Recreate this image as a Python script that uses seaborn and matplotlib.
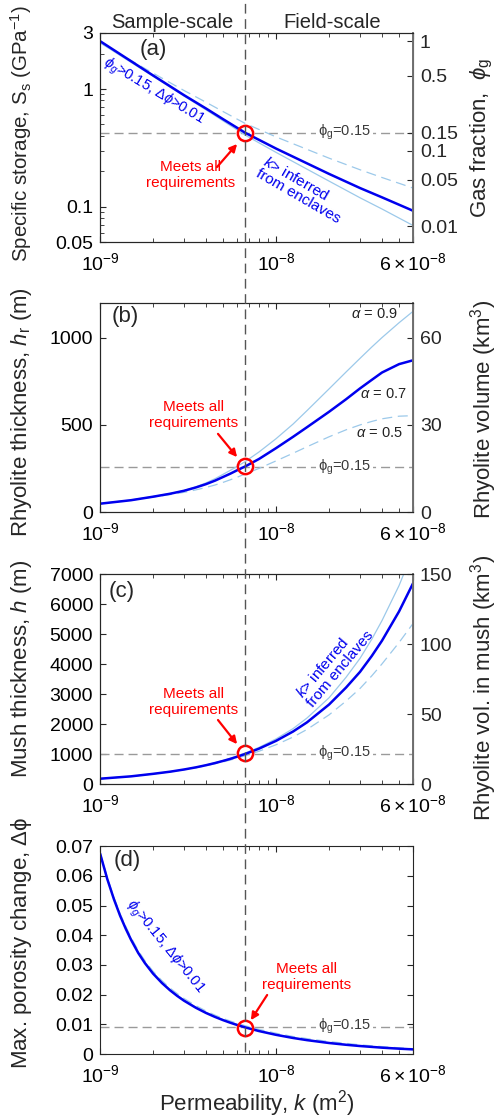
import matplotlib
matplotlib.use("Agg")
import matplotlib.pyplot as plt
import matplotlib.transforms as mtransforms
from matplotlib.lines import Line2D
from matplotlib.ticker import FixedLocator, LogLocator, NullFormatter, NullLocator
import seaborn as sns

# permeability sample points (m^2)
k_pts_a = [1e-9, 2e-9, 3e-9, 4e-9, 5e-9, 6.7e-9, 1e-8, 2e-8, 3e-8, 4e-8, 6e-8]
k_pts = [1.0e-9, 1.5e-9, 2.0e-9, 2.5e-9, 3.0e-9, 3.5e-9, 4.0e-9, 4.5e-9, 5.0e-9,
         5.5e-9, 6.0e-9, 6.7e-9, 8.0e-9, 1.0e-8, 1.25e-8, 1.5e-8, 2.0e-8, 2.5e-8,
         3.0e-8, 3.5e-8, 4.0e-8, 5.0e-8, 6.0e-8]
k_pts_d = [1.0e-9, 1.1e-9, 1.2e-9, 1.3e-9, 1.4e-9, 1.5e-9, 1.65e-9, 1.8e-9, 2.0e-9,
           2.25e-9, 2.5e-9, 2.75e-9, 3.0e-9, 3.5e-9, 4.0e-9, 4.5e-9, 5.0e-9, 5.5e-9,
           6.0e-9, 6.7e-9, 8.0e-9, 1.0e-8, 1.25e-8, 1.5e-8, 2.0e-8, 2.5e-8, 3.0e-8,
           4.0e-8, 5.0e-8, 6.0e-8]
k_req = 6.7e-9

# (a) specific storage, GPa^-1  (alpha = 0.7 / 0.9 / 0.5)
ss_a07 = [2.56, 1.307, 0.888, 0.684, 0.555, 0.424, 0.312, 0.190, 0.144, 0.120, 0.0923]
ss_a09 = [2.48, 1.286, 0.872, 0.666, 0.537, 0.405, 0.2895, 0.165, 0.119, 0.0955, 0.0692]
ss_a05 = [2.48, 1.367, 0.973, 0.773, 0.644, 0.509, 0.392, 0.2585, 0.206, 0.177, 0.144]
ss_req = 0.427
ss_circ = 0.42
phi_ticks = ["0.01", "0.05", "0.1", "0.15", "0.5", "1"]
phi_tick_ss = [0.068, 0.169, 0.30, 0.427, 1.30, 2.55]

# (b) rhyolite thickness, m
hr_a07 = [49, 69, 89, 106, 123, 142, 161, 181, 202, 221, 240, 263, 305, 367, 432, 487,
          575, 647, 709, 758, 800, 848, 870]
hr_a09 = [50, 70, 90, 107, 124, 145, 168, 192, 217, 240, 262, 291, 345, 421, 505, 582,
          706, 803, 881, 946, 1000, 1085, 1150]
hr_a05 = [49, 69, 87, 101, 114, 128, 142, 156, 171, 186, 200, 220, 251, 294, 338, 375,
          432, 472, 500, 520, 535, 550, 553]
hr_req = 259
hr_circ = 266

# (c) mush thickness, m
h_a07 = [178, 257, 340, 412, 485, 556, 628, 700, 771, 840, 910, 1006, 1180, 1440, 1752,
         2058, 2650, 3218, 3740, 4271, 4780, 5755, 6690]
h_a09 = [178, 257, 340, 412, 487, 560, 634, 709, 784, 857, 933, 1036, 1221, 1505, 1848,
         2202, 2875, 3560, 4190, 4830, 5450, 6618, 7760]
h_a05 = [178, 256, 338, 408, 478, 544, 610, 676, 739, 800, 861, 946, 1094, 1310, 1568,
         1821, 2306, 2767, 3186, 3609, 4006, 4719, 5352]
h_req = 1015
h_circ = 1030

# (d) max porosity change
dphi_a07 = [0.0676, 0.0589, 0.0521, 0.0466, 0.0422, 0.0385, 0.0340, 0.0306, 0.0271,
            0.0239, 0.02146, 0.01954, 0.01797, 0.01560, 0.01384, 0.0125, 0.01142,
            0.01054, 0.0098, 0.00895, 0.00774, 0.00647, 0.00541, 0.00468, 0.00372,
            0.00312, 0.0027, 0.00215, 0.00181, 0.00157]
dphi_a09 = [0.0678, 0.0591, 0.0524, 0.0469, 0.0425, 0.0388, 0.0343, 0.0309, 0.0274,
            0.0242, 0.0217, 0.0198, 0.0182, 0.0158, 0.0140, 0.0127, 0.0116, 0.0107,
            0.0100, 0.0091, 0.0079, 0.0066, 0.0055, 0.0048, 0.0038, 0.0032, 0.00277,
            0.00222, 0.00188, 0.00163]
dphi_a05 = [0.0680, 0.0594, 0.0527, 0.0473, 0.0430, 0.0393, 0.0348, 0.0314, 0.0279,
            0.0247, 0.0222, 0.0203, 0.0187, 0.0163, 0.0145, 0.0131, 0.0120, 0.0111,
            0.0104, 0.0095, 0.0083, 0.0070, 0.0059, 0.0052, 0.0042, 0.0036, 0.0031,
            0.0025, 0.0021, 0.0018]
dphi_req = 0.0092
dphi_circ = 0.00865

BLUE = "#0000EE"
LIGHT = "#9CC9EA"
DARK = "#262626"
FS = 14      # tick labels
LFS = 16     # axis labels

sns.set_theme(style="ticks")
plt.rcParams["font.family"] = ["Liberation Sans", "DejaVu Sans"]
plt.rcParams["mathtext.fontset"] = "custom"
plt.rcParams["mathtext.rm"] = "Liberation Sans"
plt.rcParams["mathtext.it"] = "Liberation Sans:italic"
plt.rcParams["mathtext.bf"] = "Liberation Sans:bold"
plt.rcParams["font.size"] = FS

fig = plt.figure(figsize=(5, 11.18), dpi=100)
pos = [(0.2, 0.7835, 0.626, 0.187), (0.2, 0.5418, 0.626, 0.1875),
       (0.2, 0.2987, 0.626, 0.1878), (0.2, 0.0572, 0.626, 0.186)]
axes = [fig.add_axes(p) for p in pos]


def style_axis(ax):
    ax.set_xscale("log")
    ax.set_xlim(1e-9, 6e-8)
    ax.xaxis.set_major_locator(FixedLocator([1e-9, 1e-8, 6e-8]))
    ax.set_xticklabels([r"$10^{-9}$", r"$10^{-8}$", r"$6\times10^{-8}$"])
    ax.xaxis.set_minor_locator(LogLocator(base=10, subs=range(2, 10)))
    ax.xaxis.set_minor_formatter(NullFormatter())
    ax.tick_params(which="both", direction="in", top=True, labelsize=FS,
                   color=DARK, labelcolor="black", pad=5)
    ax.tick_params(axis="x", which="major", pad=7)
    ax.tick_params(which="major", length=4, width=0.8)
    ax.tick_params(which="minor", length=3, width=0.6)
    for s in ax.spines.values():
        s.set_color(DARK)
        s.set_linewidth(0.8)


def draw_curves(ax, k, y07, y09, y05):
    sns.lineplot(x=k, y=y09, ax=ax, color=LIGHT, lw=0.9)
    sns.lineplot(x=k, y=y05, ax=ax, color=LIGHT, lw=0.9, linestyle=(0, (8, 4.5)))
    sns.lineplot(x=k, y=y07, ax=ax, color=BLUE, lw=1.8)
    ax.set_xlabel("")


def mark_req(ax, yline, ycirc):
    ax.axhline(yline, color="#9a9a9a", lw=1.0, dashes=(6.5, 3.6), zorder=1)
    ax.plot([k_req], [ycirc], "o", ms=11, mfc="none", mec="red", mew=1.8, zorder=5)
    ax.text(0.78, yline, r"$\mathrm{\phi_g}$=0.15", transform=ax.get_yaxis_transform(),
            ha="center", va="center", fontsize=10.5, color="#3a3a3a",
            bbox=dict(facecolor="white", edgecolor="none", pad=1.5), zorder=3)


def red_note(ax, txy, tail, head):
    ax.text(txy[0], txy[1], "Meets all\nrequirements", transform=ax.transAxes,
            ha="center", va="center", color="red", fontsize=11, linespacing=1.2)
    ax.annotate("", xy=head, xytext=tail, xycoords="axes fraction",
                textcoords="axes fraction",
                arrowprops=dict(arrowstyle="-|>", color="red", lw=1.6,
                                mutation_scale=11, shrinkA=0, shrinkB=0))


def right_twin(ax):
    ax2 = ax.twinx()
    ax2.tick_params(which="both", direction="in", labelsize=FS, color=DARK, pad=5)
    ax2.tick_params(which="major", length=4, width=0.8)
    for s in ax2.spines.values():
        s.set_color(DARK)
        s.set_linewidth(0.8)
    ax2.spines["right"].set_color("#707070")
    ax2.spines["right"].set_linewidth(1.4)
    return ax2


# ---- (a)
ax = axes[0]
style_axis(ax)
ax.set_yscale("log")
draw_curves(ax, k_pts_a, ss_a07, ss_a09, ss_a05)
ax.set_ylim(0.05, 3)
ax.yaxis.set_major_locator(FixedLocator([0.05, 0.1, 1, 3]))
ax.set_yticklabels(["0.05", "0.1", "1", "3"])
ax.yaxis.set_minor_locator(LogLocator(base=10, subs=range(2, 10)))
ax.yaxis.set_minor_formatter(NullFormatter())
mark_req(ax, ss_req, ss_circ)
ax.set_ylabel(r"Specific storage, $\mathrm{S_s}$ (GPa$^{-1}$)", fontsize=14.8)
ax.yaxis.set_label_coords(-0.21, 0.52)
ax.text(0.128, 0.919, "(a)", transform=ax.transAxes, ha="left", va="center", fontsize=16)
ax.text(0.172, 0.718, r"$\phi_g$>0.15, $\Delta\phi$>0.01", transform=ax.transAxes,
        rotation=-31, ha="center", va="center", color=BLUE, fontsize=10.5,
        rotation_mode="anchor")
ax.text(0.645, 0.249, "$k$> inferred\nfrom enclaves", transform=ax.transAxes,
        rotation=-30, ha="center", va="center", multialignment="left",
        color=BLUE, fontsize=11, rotation_mode="anchor", linespacing=1.0)
red_note(ax, (0.288, 0.321), (0.374, 0.359), (0.438, 0.469))
ax2 = right_twin(ax)
ax2.set_yscale("log")
ax2.set_ylim(0.05, 3)
ax2.yaxis.set_major_locator(FixedLocator(phi_tick_ss))
ax2.set_yticklabels(phi_ticks)
ax2.yaxis.set_minor_locator(NullLocator())
ax2.set_ylabel(r"Gas fraction,  $\phi_\mathrm{g}$", fontsize=LFS, rotation=90)
ax2.yaxis.set_label_coords(1.18, 0.5)

# ---- (b)
ax = axes[1]
style_axis(ax)
draw_curves(ax, k_pts, hr_a07, hr_a09, hr_a05)
ax.set_ylim(0, 1200)
ax.set_yticks([0, 500, 1000])
mark_req(ax, hr_req, hr_circ)
ax.set_ylabel(r"Rhyolite thickness, $h_\mathrm{r}$ (m)", fontsize=LFS)
ax.yaxis.set_label_coords(-0.21, 0.478)
ax.text(0.038, 0.932, "(b)", transform=ax.transAxes, ha="left", va="center", fontsize=16)
for lab, xy in [("0.9", (0.952, 0.947)), ("0.7", (0.978, 0.564)), ("0.5", (0.967, 0.377))]:
    ax.text(xy[0], xy[1], r"$\alpha$ = " + lab, transform=ax.transAxes,
            ha="right", va="center", fontsize=10.5, color="#222222")
red_note(ax, (0.300, 0.464), (0.377, 0.374), (0.438, 0.263))
ax2 = right_twin(ax)
ax2.set_ylim(0, 72)
ax2.set_yticks([0, 30, 60])
ax2.set_ylabel(r"Rhyolite volume (km$^3$)", fontsize=LFS, rotation=90)
ax2.yaxis.set_label_coords(1.175, 0.49)

# ---- (c)
ax = axes[2]
style_axis(ax)
draw_curves(ax, k_pts, h_a07, h_a09, h_a05)
ax.set_ylim(0, 7000)
ax.set_yticks(range(0, 7001, 1000))
mark_req(ax, h_req, h_circ)
ax.set_ylabel(r"Mush thickness, $h$ (m)", fontsize=LFS)
ax.yaxis.set_label_coords(-0.21, 0.548)
ax.text(0.026, 0.919, "(c)", transform=ax.transAxes, ha="left", va="center", fontsize=16)
ax.text(0.751, 0.571, "$k$> inferred\nfrom enclaves", transform=ax.transAxes,
        rotation=50, ha="center", va="center", multialignment="left",
        color=BLUE, fontsize=11, rotation_mode="anchor", linespacing=1.0)
red_note(ax, (0.300, 0.390), (0.377, 0.305), (0.438, 0.190))
ax2 = right_twin(ax)
ax2.set_ylim(0, 150)
ax2.set_yticks([0, 50, 100, 150])
ax2.set_ylabel(r"Rhyolite vol. in mush (km$^3$)", fontsize=LFS, rotation=90)
ax2.yaxis.set_label_coords(1.175, 0.457)

# ---- (d)
ax = axes[3]
style_axis(ax)
draw_curves(ax, k_pts_d, dphi_a07, dphi_a09, dphi_a05)
ax.set_ylim(0, 0.07)
ax.set_yticks([0, 0.01, 0.02, 0.03, 0.04, 0.05, 0.06, 0.07])
ax.set_yticklabels(["0", "0.01", "0.02", "0.03", "0.04", "0.05", "0.06", "0.07"])
ax.tick_params(axis="y", right=True)
mark_req(ax, dphi_req, dphi_circ)
ax.set_ylabel(r"Max. porosity change, $\Delta\mathrm{\phi}$", fontsize=LFS)
ax.yaxis.set_label_coords(-0.21, 0.534)
ax.set_xlabel(r"Permeability, $k$ (m$^2$)", fontsize=LFS, labelpad=2)
ax.text(0.042, 0.933, "(d)", transform=ax.transAxes, ha="left", va="center", fontsize=16)
ax.text(0.208, 0.514, r"$\phi_g$>0.15, $\Delta\phi$>0.01", transform=ax.transAxes,
        rotation=-51, ha="center", va="center", color=BLUE, fontsize=10.5,
        rotation_mode="anchor")
red_note(ax, (0.661, 0.370), (0.534, 0.284), (0.482, 0.163))

# vertical line through all panels
trans = mtransforms.blended_transform_factory(axes[0].transData, fig.transFigure)
fig.add_artist(Line2D([k_req, k_req], [0.059, 1.0], transform=trans,
                      color="#555555", lw=1.0, dashes=(7, 4), zorder=10))

fig.text(0.344, 0.980, "Sample-scale", ha="center", va="center", fontsize=14.5)
fig.text(0.664, 0.980, "Field-scale", ha="center", va="center", fontsize=14.5)

fig.savefig("out.png", dpi=100)
